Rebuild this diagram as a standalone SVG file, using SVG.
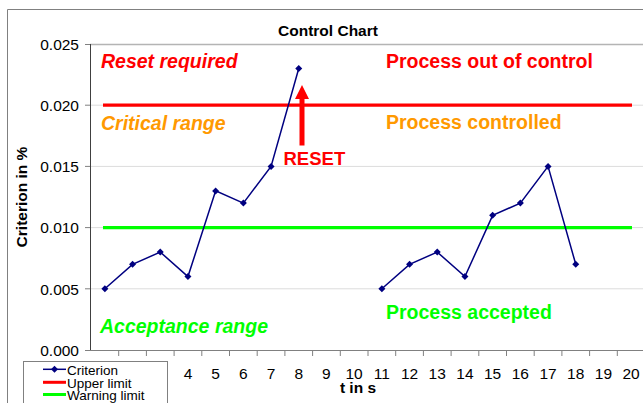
<svg xmlns="http://www.w3.org/2000/svg" width="643" height="403" viewBox="0 0 643 403">
<style>
text{font-family:"Liberation Sans",Arial,sans-serif}
.tick{font-size:15.5px;fill:#000}
.ax{font-size:15.5px;font-weight:bold;fill:#000}
.lbl{font-size:19.5px;font-weight:bold}
.it{font-style:italic}
.grid{stroke:#dcdcdc;stroke-width:1}
.tk{stroke:#808080;stroke-width:1}
.leg{font-size:13.5px;fill:#000}
</style>
<defs>
<marker id="dm" markerWidth="8" markerHeight="8" refX="4" refY="4" markerUnits="userSpaceOnUse">
<path d="M4 0.5L7.5 4L4 7.5L0.5 4Z" fill="#000080"/>
</marker>
</defs>
<rect width="643" height="403" fill="#fff"/>
<g id="frame">
<path d="M7.5 403V9.5H643" fill="none" stroke="#808080" stroke-width="1"/>
</g>
<text class="ax" x="328" y="36" text-anchor="middle">Control Chart</text>
<g id="plot">
<line class="grid" x1="90" y1="288.8" x2="643" y2="288.8"/>
<line class="grid" x1="90" y1="227.6" x2="643" y2="227.6"/>
<line class="grid" x1="90" y1="166.4" x2="643" y2="166.4"/>
<line class="grid" x1="90" y1="105.2" x2="643" y2="105.2"/>
<line x1="90" y1="44.5" x2="643" y2="44.5" stroke="#b4b4b4" stroke-width="1.5"/>
<line x1="90.5" y1="44" x2="90.5" y2="350" stroke="#404040" stroke-width="1"/>
<line x1="90" y1="350.5" x2="643" y2="350.5" stroke="#808080" stroke-width="1.2"/>
<g class="tk">
<line x1="85" y1="44.5" x2="90" y2="44.5"/>
<line x1="85" y1="105.2" x2="90" y2="105.2"/>
<line x1="85" y1="166.4" x2="90" y2="166.4"/>
<line x1="85" y1="227.6" x2="90" y2="227.6"/>
<line x1="85" y1="288.8" x2="90" y2="288.8"/>
<line x1="85" y1="350.5" x2="90" y2="350.5"/>
<path d="M118.7 350v6M146.4 350v6M174.1 350v6M201.8 350v6M229.5 350v6M257.2 350v6M284.9 350v6M312.6 350v6M340.3 350v6M368 350v6M395.7 350v6M423.4 350v6M451.1 350v6M478.8 350v6M506.5 350v6M534.2 350v6M561.9 350v6M589.6 350v6M617.3 350v6"/>
</g>
<g class="tick" text-anchor="end">
<text x="79" y="50">0.025</text>
<text x="79" y="111">0.020</text>
<text x="79" y="172">0.015</text>
<text x="79" y="233">0.010</text>
<text x="79" y="294.5">0.005</text>
<text x="79" y="356">0.000</text>
</g>
<g class="tick" text-anchor="middle">
<text x="188" y="379">4</text>
<text x="215.6" y="379">5</text>
<text x="243.3" y="379">6</text>
<text x="271" y="379">7</text>
<text x="298.7" y="379">8</text>
<text x="326.4" y="379">9</text>
<text x="354.1" y="379">10</text>
<text x="381.8" y="379">11</text>
<text x="409.5" y="379">12</text>
<text x="437.2" y="379">13</text>
<text x="464.9" y="379">14</text>
<text x="492.6" y="379">15</text>
<text x="520.3" y="379">16</text>
<text x="548" y="379">17</text>
<text x="575.7" y="379">18</text>
<text x="603.4" y="379">19</text>
<text x="631.1" y="379">20</text>
</g>
<text class="ax" x="358" y="393" text-anchor="middle">t in s</text>
<text class="ax" transform="translate(27,197) rotate(-90)" text-anchor="middle">Criterion in %</text>
</g>
<g id="connectors">
<line id="upper" x1="103" y1="105.2" x2="632" y2="105.2" stroke="#ff0000" stroke-width="3.2"/>
<line id="warning" x1="103" y1="227.6" x2="632" y2="227.6" stroke="#00ff00" stroke-width="3.2"/>
<polyline id="series1" fill="none" stroke="#000080" stroke-width="1.5" marker-start="url(#dm)" marker-mid="url(#dm)" marker-end="url(#dm)" points="104.85,288.8 132.55,264.32 160.25,252.08 187.95,276.56 215.65,190.88 243.35,203.12 271.05,166.4 298.75,68.48"/>
<polyline id="series2" fill="none" stroke="#000080" stroke-width="1.5" marker-start="url(#dm)" marker-mid="url(#dm)" marker-end="url(#dm)" points="381.85,288.8 409.55,264.32 437.25,252.08 464.95,276.56 492.65,215.36 520.35,203.12 548.05,166.4 575.75,264.32"/>
<path id="reset-arrow" d="M299.5 145.5V99H295L302 85L309 99H304.5V145.5Z" fill="#ff0000"/>
</g>
<g id="labels">
<text class="lbl it" x="101" y="68" fill="#ff0000">Reset required</text>
<text class="lbl" x="386" y="68" fill="#ff0000">Process out of control</text>
<text class="lbl it" x="101" y="130" fill="#ff9900">Critical range</text>
<text class="lbl" x="386" y="129" fill="#ff9900">Process controlled</text>
<text class="lbl" x="283.5" y="165" fill="#ff0000" style="font-size:18.5px">RESET</text>
<text class="lbl it" x="100" y="333" fill="#00ff00">Acceptance range</text>
<text class="lbl" x="386" y="319" fill="#00ff00">Process accepted</text>
</g>
<g id="legend">
<rect x="23.5" y="361.5" width="144" height="50" fill="#fff" stroke="#808080" stroke-width="1"/>
<polyline points="43,369.3 54.5,369.3 66,369.3" fill="none" stroke="#000080" stroke-width="1.5" marker-mid="url(#dm)"/>
<line x1="43" y1="382.3" x2="66" y2="382.3" stroke="#ff0000" stroke-width="3"/>
<line x1="43" y1="394.5" x2="66" y2="394.5" stroke="#00ff00" stroke-width="3"/>
<text class="leg" x="67" y="375">Criterion</text>
<text class="leg" x="67" y="387.5">Upper limit</text>
<text class="leg" x="67" y="400">Warning limit</text>
</g>
</svg>
